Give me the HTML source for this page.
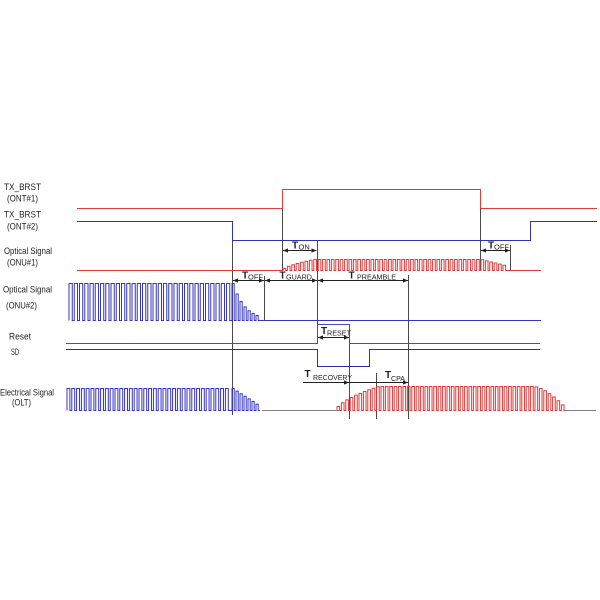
<!DOCTYPE html>
<html><head><meta charset="utf-8"><style>
html,body{margin:0;padding:0;background:#fff;}
svg{display:block;}
text{font-family:"Liberation Sans",sans-serif;fill:#222;}
.lb{font-size:9px;}
.T{font-size:10px;font-weight:bold;}
.s{font-size:7.5px;}
</style></head><body>
<svg id="sv" width="600" height="600" viewBox="0 0 600 600" xmlns="http://www.w3.org/2000/svg">
<rect width="600" height="600" fill="#fff"/>
<defs>
<marker id="ar" viewBox="0 0 6 6" refX="6" refY="3" markerWidth="5" markerHeight="5" orient="auto-start-reverse"><path d="M0,0.5 L6,3 L0,5.5 z" fill="#222"/></marker>
</defs>

<!-- left labels -->
<text class="lb" x="4" y="190" textLength="37" lengthAdjust="spacingAndGlyphs">TX_BRST</text>
<text class="lb" x="7" y="201.5" textLength="31" lengthAdjust="spacingAndGlyphs">(ONT#1)</text>
<text class="lb" x="4" y="217.5" textLength="37" lengthAdjust="spacingAndGlyphs">TX_BRST</text>
<text class="lb" x="7" y="229.5" textLength="31" lengthAdjust="spacingAndGlyphs">(ONT#2)</text>
<text class="lb" x="4" y="254" textLength="48" lengthAdjust="spacingAndGlyphs">Optical Signal</text>
<text class="lb" x="7" y="265.5" textLength="31" lengthAdjust="spacingAndGlyphs">(ONU#1)</text>
<text class="lb" x="3" y="292.5" textLength="49" lengthAdjust="spacingAndGlyphs">Optical Signal</text>
<text class="lb" x="6" y="308.5" textLength="31" lengthAdjust="spacingAndGlyphs">(ONU#2)</text>
<text class="lb" x="9" y="339.5" textLength="22" lengthAdjust="spacingAndGlyphs">Reset</text>
<text class="lb" x="11" y="355" textLength="8" lengthAdjust="spacingAndGlyphs">SD</text>
<text class="lb" x="0" y="395.5" textLength="54" lengthAdjust="spacingAndGlyphs">Electrical Signal</text>
<text class="lb" x="12" y="405.5" textLength="19" lengthAdjust="spacingAndGlyphs">(OLT)</text>

<!-- guide lines -->
<g stroke="#4a4a4a" stroke-width="1" fill="none">
<line x1="232.5" y1="240.5" x2="232.5" y2="415"/>
<line x1="282.5" y1="208" x2="282.5" y2="270"/>
<line x1="264.5" y1="276" x2="264.5" y2="320.5"/>
<line x1="317.5" y1="240.5" x2="317.5" y2="343.5"/>
<line x1="349.5" y1="324.5" x2="349.5" y2="419"/>
<line x1="376.5" y1="373" x2="376.5" y2="419"/>
<line x1="408.5" y1="275" x2="408.5" y2="419"/>
<line x1="480.5" y1="208" x2="480.5" y2="270"/>
<line x1="510.5" y1="245" x2="510.5" y2="270.5"/>
</g>

<!-- digital signals -->
<path d="M77,208.5 H282.5 V189.5 H480.5 V208.5 H597" stroke="#e03a3a" fill="none"/>
<path d="M77,221.5 H232.5 V240.5 H530.5 V221.5 H597" stroke="#3232b8" fill="none"/>
<path d="M66,343.5 H317.5 V324.5 H349.5 V343.5 H540" stroke="#4a4ac8" fill="none"/>
<path d="M66,349.5 H317.5 V366.5 H369.5 V349.5 H540" stroke="#2d2db0" fill="none"/>

<!-- analog pulse trains (filled by script) -->
<path id="p1" stroke="#e03a3a" fill="none" stroke-width="1"/>
<path id="p2" stroke="#3535c0" fill="none" stroke-width="1"/>
<path id="p3" stroke="#3535c0" fill="none" stroke-width="1"/>
<path id="p4" stroke="#e03a3a" fill="none" stroke-width="1"/>
<path d="M262,410.5 H340" stroke="#808080" fill="none"/>
<path d="M566,410.5 H596" stroke="#808080" fill="none"/>

<!-- timing arrows -->
<g stroke="#222" stroke-width="1" fill="none">
<line x1="283" y1="250.5" x2="316.5" y2="250.5" marker-start="url(#ar)" marker-end="url(#ar)"/>
<line x1="481" y1="250.5" x2="510" y2="250.5" marker-start="url(#ar)" marker-end="url(#ar)"/>
<line x1="233" y1="280.5" x2="264" y2="280.5" marker-start="url(#ar)" marker-end="url(#ar)"/>
<line x1="265" y1="280.5" x2="317" y2="280.5" marker-start="url(#ar)" marker-end="url(#ar)"/>
<line x1="318" y1="280.5" x2="408" y2="280.5" marker-start="url(#ar)" marker-end="url(#ar)"/>
<line x1="318" y1="337.5" x2="349" y2="337.5" marker-start="url(#ar)" marker-end="url(#ar)"/>
<line x1="303" y1="382.5" x2="349" y2="382.5" marker-end="url(#ar)"/>
<line x1="349" y1="382.5" x2="377" y2="382.5"/>
<line x1="377" y1="382.5" x2="408" y2="382.5" marker-end="url(#ar)"/>
</g>

<!-- timing labels -->
<text class="T" x="292" y="248.5">T</text><text class="s" x="298.5" y="249.5">ON</text>
<text class="T" x="488" y="248.5">T</text><text class="s" x="494" y="249.5">OFF</text>
<text class="T" x="242" y="278.5">T</text><text class="s" x="248" y="279.5">OFF</text>
<text class="T" x="279.5" y="278.5">T</text><text class="s" x="286" y="279.5" textLength="26" lengthAdjust="spacingAndGlyphs">GUARD</text>
<text class="T" x="348.5" y="278.5">T</text><text class="s" x="357" y="279.5" textLength="39" lengthAdjust="spacingAndGlyphs">PREAMBLE</text>
<text class="T" x="321" y="334">T</text><text class="s" x="327" y="335.5" textLength="24" lengthAdjust="spacingAndGlyphs">RESET</text>
<text class="T" x="304.5" y="377">T</text><text class="s" x="313" y="380" textLength="39" lengthAdjust="spacingAndGlyphs">RECOVERY</text>
<text class="T" x="385" y="378">T</text><text class="s" x="391" y="381" textLength="14" lengthAdjust="spacingAndGlyphs">CPA</text>
</svg>
<script>
function train(x0,x1,base,period,duty,hf){
  var d="M"+x0+","+base;
  for(var x=x0;x+period*duty<=x1+0.01;x+=period){
    var h=Math.max(0,hf(x));
    var xa=x.toFixed(2), xb=(x+period*duty).toFixed(2), y=(base-h).toFixed(2);
    d+=" L"+xa+","+y+" L"+xb+","+y+" L"+xb+","+base+" L"+Math.min(x+period,x1).toFixed(2)+","+base;
  }
  return d;
}
// ONU#1 optical (red)
var d1="M77,270.5 L283,270.5 "+train(283,510,270.5,4.4,0.6,function(x){
  if(x<313) return 11*Math.pow(Math.max(0,(x-281)/32),0.6);
  if(x<480) return 11;
  return 11-(x-480)*0.25;
}).slice(1).replace(/^/," L")+" L541,270.5";
document.getElementById("p1").setAttribute("d",d1);
// ONU#2 optical (blue)
var d2=train(69,232,320.5,5.25,0.62,function(x){return 37;});
d2+=" "+train(232,262,320.5,4,0.55,function(x){return 37*Math.exp(-(x-232)/12);}).replace(/^M/,"L");
d2+=" L541,320.5";
document.getElementById("p2").setAttribute("d",d2);
// OLT electrical blue
var d3=train(67,232,410.5,4.8,0.6,function(x){return 22;});
d3+=" "+train(232,262,410.5,4,0.55,function(x){return 22-(x-232)*0.65;}).replace(/^M/,"L");
document.getElementById("p3").setAttribute("d",d3);
// OLT electrical red
var d4=train(337,566,410.5,4.4,0.6,function(x){
  if(x<377) return 24*Math.pow(Math.max(0.05,(x-335)/42),0.6);
  if(x<533) return 24;
  return 24*(1-Math.pow(Math.min(1,(x-533)/34),1.5));
});
document.getElementById("p4").setAttribute("d",d4);
</script>
</body></html>
